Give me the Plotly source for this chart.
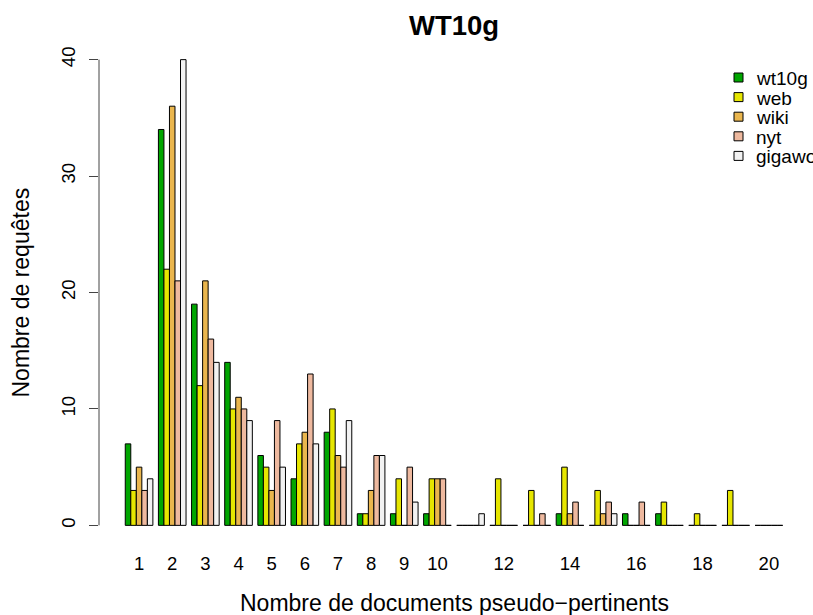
import plotly.graph_objects as go

groups = list(range(1, 21))
series_names = ["wt10g", "web", "wiki", "nyt", "gigaword"]
wt10g    = [7, 34, 19, 14, 6, 4, 8, 1, 1, 1, 0, 0, 0, 1, 0, 1, 1, 0, 0, 0]
web      = [3, 22, 12, 10, 5, 7, 10, 1, 4, 4, 0, 4, 3, 5, 3, 0, 2, 1, 3, 0]
wiki     = [5, 36, 21, 11, 3, 8, 6, 3, 0, 4, 0, 0, 0, 1, 1, 0, 0, 0, 0, 0]
nyt      = [3, 21, 16, 10, 9, 13, 5, 6, 5, 4, 0, 0, 1, 2, 2, 2, 0, 0, 0, 0]
gigaword = [4, 40, 14, 9, 5, 7, 9, 6, 2, 0, 1, 0, 0, 0, 1, 0, 0, 0, 0, 0]
series_values = [wt10g, web, wiki, nyt, gigaword]
colors = ["#00A600", "#E6E600", "#EAB64E", "#EEB99F", "#F2F2F2"]

x_tickvals = [1, 2, 3, 4, 5, 6, 7, 8, 9, 10, 12, 14, 16, 18, 20]
x_ticktext = [str(v) for v in x_tickvals]
y_tickvals = [0, 10, 20, 30, 40]

FONT = "Liberation Sans, Arial, Helvetica, sans-serif"
W, H = 813, 615
ML, MR, MT, MB = 99, 4, 41, 71
PW, PH = W - ML - MR, H - MT - MB


def px_x(px):
    return (px - ML) / PW


def px_y(py):
    return (H - MB - py) / PH


fig = go.Figure()
for name, vals, col in zip(series_names, series_values, colors):
    fig.add_trace(go.Bar(
        x=groups, y=vals, name=name, showlegend=False,
        marker=dict(color=col, line=dict(color="black", width=1)),
    ))

fig.update_layout(
    width=W, height=H,
    margin=dict(l=ML, r=MR, t=MT, b=MB, autoexpand=False),
    paper_bgcolor="white", plot_bgcolor="white",
    barmode="group", bargap=1/6, bargroupgap=0,
    font=dict(family=FONT, color="black", size=18),
    showlegend=False,
    xaxis=dict(
        range=[-0.209, 21.21], tickmode="array", tickvals=x_tickvals,
        ticktext=x_ticktext, showline=False, showgrid=False, zeroline=False,
        ticks="", tickfont=dict(size=18.5), ticklabelstandoff=6,
    ),
    yaxis=dict(
        range=[-1.6, 41.6], tickmode="array", tickvals=y_tickvals,
        showline=False, showgrid=False, zeroline=False,
        ticks="outside", ticklen=9, tickcolor="#444", tickwidth=1,
        tickangle=-90, tickfont=dict(size=18.5), ticklabelstandoff=7,
    ),
)

# y axis line spanning the tick range (R style)
fig.add_shape(type="line", xref="paper", yref="y", x0=0, x1=0,
              y0=min(y_tickvals), y1=max(y_tickvals),
              line=dict(color="#444", width=1))

# legend (R style, top right, clipped at the figure edge)
leg_sq_left, leg_sq_size, leg_text_left = 734, 9, 754
leg_first_row, leg_row_step = 77.5, 19.6
for i, (name, col) in enumerate(zip(series_names, colors)):
    cy = leg_first_row + i * leg_row_step
    fig.add_shape(type="rect", xref="paper", yref="paper",
                  x0=px_x(leg_sq_left), x1=px_x(leg_sq_left + leg_sq_size),
                  y0=px_y(cy + leg_sq_size / 2), y1=px_y(cy - leg_sq_size / 2),
                  fillcolor=col, line=dict(color="black", width=1))
    fig.add_annotation(text=name, xref="paper", yref="paper",
                       x=px_x(leg_text_left), y=px_y(cy + 1),
                       xanchor="left", yanchor="middle", showarrow=False,
                       font=dict(size=19, family=FONT))

fig.add_annotation(text="<b>WT10g</b>", xref="paper", yref="paper",
                   x=0.5, y=px_y(25), xanchor="center", yanchor="middle",
                   showarrow=False, font=dict(size=27.5, family=FONT))
fig.add_annotation(text="Nombre de documents pseudo\u2212pertinents", xref="paper", yref="paper",
                   x=0.5, y=px_y(603), xanchor="center", yanchor="middle",
                   showarrow=False, font=dict(size=23, family=FONT))
fig.add_annotation(text="Nombre de requêtes", xref="paper", yref="paper",
                   x=px_x(20), y=0.5, xanchor="center", yanchor="middle",
                   textangle=-90, showarrow=False, font=dict(size=23, family=FONT))

fig.write_html("out.html", config={"displayModeBar": False},
               post_script="document.body.style.margin='0px';")
